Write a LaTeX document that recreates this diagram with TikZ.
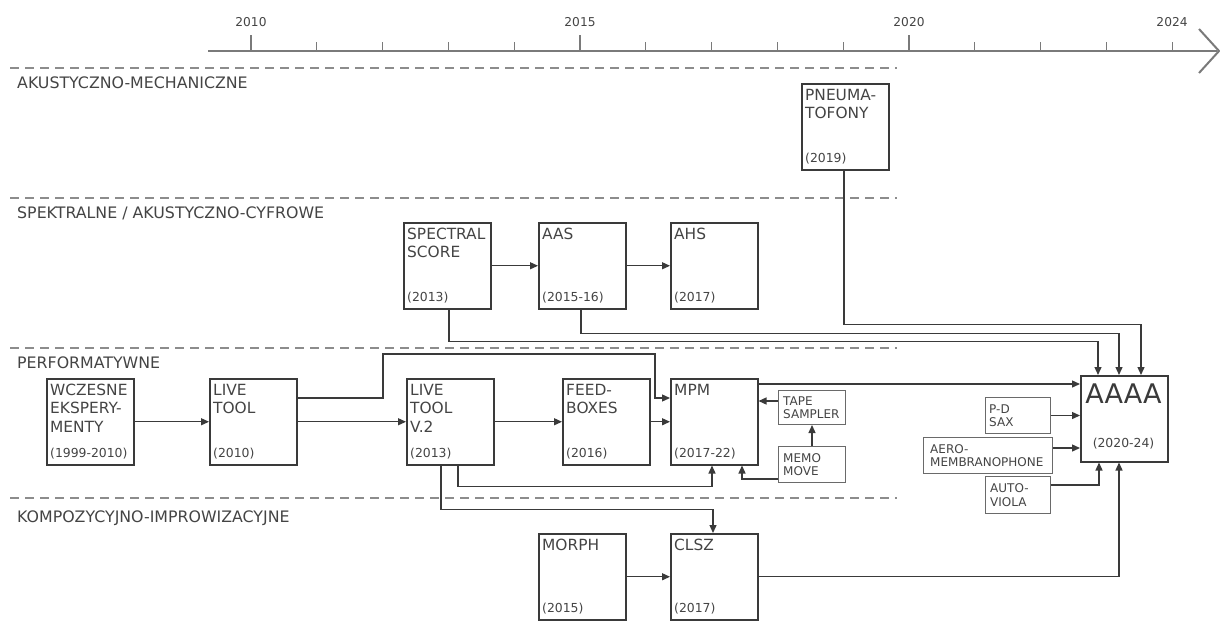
\documentclass[tikz,border=0pt]{standalone}
\usepackage{fontspec}
\setmainfont{DejaVu Sans}
\usetikzlibrary{calc,arrows.meta}
\definecolor{linec}{HTML}{3A3A3A}
\definecolor{txtc}{HTML}{444444}
\definecolor{lanec}{HTML}{8C8C8C}
\definecolor{axisc}{HTML}{7A7A7A}
\definecolor{sboxc}{HTML}{6A6A6A}
\tikzset{
  box/.style={draw=linec, line width=1.5pt, minimum width=87pt, minimum height=86pt, inner sep=0pt, anchor=north west},
  sbox/.style={draw=sboxc, line width=1pt, inner sep=0pt, anchor=north west},
  ttl/.style={anchor=north west, inner sep=0pt, align=left, text=txtc, font=\fontsize{15.4}{18.3}\selectfont},
  yr/.style={anchor=base west, inner sep=0pt, text=txtc, font=\fontsize{12.4}{14}\selectfont},
  stxt/.style={anchor=west, inner sep=0pt, align=left, text=txtc, font=\fontsize{12}{13.5}\selectfont},
  lanelbl/.style={anchor=base west, inner sep=0pt, text=txtc, font=\fontsize{15.8}{18}\selectfont},
  yearlbl/.style={anchor=base, inner sep=0pt, text=txtc, font=\fontsize{12.2}{14}\selectfont},
  laneline/.style={draw=lanec, line width=1.8pt, dash pattern=on 9pt off 6pt},
  conn/.style={draw=linec, line width=1.3pt, -{Triangle[length=8pt,width=7pt]}},
}
\begin{document}
\begin{tikzpicture}[x=1pt,y=-1pt]
\useasboundingbox (0,0) rectangle (1220,637);
% timeline
\draw[axisc, line width=2.4pt] (208,51) -- (1217,51);
\draw[axisc, line width=2pt, line join=miter] (1199,29) -- (1219,51) -- (1199,73);
\foreach \i in {0,...,14}{
  \pgfmathsetmacro\xx{251+65.8*\i}
  \ifnum\i=0 \draw[axisc,line width=1.3pt] (\xx,51) -- (\xx,35);
  \else\ifnum\i=5 \draw[axisc,line width=1.3pt] (\xx,51) -- (\xx,35);
  \else\ifnum\i=10 \draw[axisc,line width=1.3pt] (\xx,51) -- (\xx,35);
  \else \draw[axisc,line width=1.3pt] (\xx,51) -- (\xx,42);
  \fi\fi\fi
}
\node[yearlbl] (y2010) at (251,26) {2010};
\node[yearlbl] (y2015) at (580,26) {2015};
\node[yearlbl] (y2020) at (909,26) {2020};
\node[yearlbl] (y2024) at (1172,26) {2024};
% lanes
\draw[laneline] (10,68) -- (897,68);
\draw[laneline] (10,198) -- (897,198);
\draw[laneline] (10,348) -- (897,348);
\draw[laneline] (10,498) -- (897,498);
\node[lanelbl] (l1) at (17,88) {AKUSTYCZNO-MECHANICZNE};
\node[lanelbl] (l2) at (17,218) {SPEKTRALNE / AKUSTYCZNO-CYFROWE};
\node[lanelbl] (l3) at (17,368) {PERFORMATYWNE};
\node[lanelbl] (l4) at (17,522) {KOMPOZYCYJNO-IMPROWIZACYJNE};
% big boxes
\node[box] (pneu) at (801,83) {};
\node[box] (spec) at (403,222) {};
\node[box] (aas) at (538,222) {};
\node[box] (ahs) at (670,222) {};
\node[box] (wcz) at (46,378) {};
\node[box] (lt) at (209,378) {};
\node[box] (lt2) at (406,378) {};
\node[box] (fb) at (562,378) {};
\node[box] (mpm) at (670,378) {};
\node[box] (morph) at (538,533) {};
\node[box] (clsz) at (670,533) {};
\node[box] (aaaa) at (1080,375) {};
% titles
\foreach \b/\t in {pneu/{PNEUMA-\\TOFONY}, spec/{SPECTRAL\\SCORE}, aas/{AAS}, ahs/{AHS},
  wcz/{WCZESNE\\EKSPERY-\\MENTY}, lt/{LIVE\\TOOL}, lt2/{LIVE\\TOOL\\V.2}, fb/{FEED-\\BOXES},
  mpm/{MPM}, morph/{MORPH}, clsz/{CLSZ}}{
  \node[ttl] (\b-t) at ($(\b.north west)+(4,6)$) {\t};
}
\foreach \b/\y in {pneu/2019, spec/2013, aas/2015-16, ahs/2017, wcz/1999-2010, lt/2010,
  lt2/2013, fb/2016, mpm/2017-22, morph/2015, clsz/2017}{
  \node[yr] (\b-y) at ($(\b.south west)+(4,-8)$) {(\y)};
}
\node[anchor=base, inner sep=0pt, text=linec, font=\fontsize{27}{30}\selectfont] (aaaa-t) at ($(aaaa.north west)+(43.5,28)$) {AAAA};
\node[anchor=base, inner sep=0pt, text=txtc, font=\fontsize{12.4}{14}\selectfont] (aaaa-y) at ($(aaaa.north west)+(43.5,72)$) {(2020-24)};
% small boxes
\node[sbox, minimum width=67pt, minimum height=34pt] (tape) at (778,390) {};
\node[sbox, minimum width=67pt, minimum height=36pt] (memo) at (778,446) {};
\node[sbox, minimum width=65pt, minimum height=36pt] (pdsax) at (985,397) {};
\node[sbox, minimum width=129pt, minimum height=36pt] (aero) at (923,437) {};
\node[sbox, minimum width=65pt, minimum height=37pt] (auto) at (985,476) {};
\node[stxt] (tape-t) at ($(tape.west)+(5,0)$) {TAPE\\SAMPLER};
\node[stxt] (memo-t) at ($(memo.west)+(5,0)$) {MEMO\\MOVE};
\node[stxt] (pdsax-t) at ($(pdsax.west)+(4,0)$) {P-D\\SAX};
\node[stxt] (aero-t) at ($(aero.west)+(7,0)$) {AERO-\\MEMBRANOPHONE};
\node[stxt] (auto-t) at ($(auto.west)+(5,0)$) {AUTO-\\VIOLA};
% connectors
\draw[conn] (spec.east) -- (aas.west);
\draw[conn] (aas.east) -- (ahs.west);
\draw[conn] (wcz.east) -- (lt.west);
\draw[conn] (lt.east) -- (lt2.west);
\draw[conn] (lt2.east) -- (fb.west);
\draw[conn] (fb.east) -- (mpm.west);
\draw[conn] (morph.east) -- (clsz.west);
\draw[conn] ($(lt.north east)+(0,20)$) -- (383,398) -- (383,354) -- (655,354) -- (655,398) -- ($(mpm.north west)+(0,20)$);
\draw[conn] ($(mpm.north east)+(0,6)$) -- ($(aaaa.north west)+(0,9)$);
\draw[conn] ($(tape.north west)+(0,11)$) -- ($(mpm.north east)+(0,23)$);
\draw[conn] (memo.north) -- (tape.south);
\draw[conn] ($(memo.south west)+(0,-4)$) -| ($(mpm.south west)+(72,0)$);
\draw[conn] ($(lt2.south west)+(52,0)$) -- ++(0,21) -| ($(mpm.south west)+(42,0)$);
\draw[conn] ($(lt2.south west)+(35,0)$) -- ++(0,44) -| ($(clsz.north west)+(43,0)$);
\draw[conn] (clsz.east) -| ($(aaaa.south west)+(39,0)$);
\draw[conn] ($(auto.north east)+(0,9)$) -| ($(aaaa.south west)+(19,0)$);
\draw[conn] (pdsax.east) -- (pdsax.east -| aaaa.west);
\draw[conn] ($(aero.north east)+(0,11)$) coordinate (ae) -- (ae -| aaaa.west);
\draw[conn] ($(spec.south west)+(46,0)$) -- ++(0,32) -| ($(aaaa.north west)+(18,0)$);
\draw[conn] ($(aas.south west)+(43,0)$) -- ++(0,24) -| ($(aaaa.north west)+(39,0)$);
\draw[conn] ($(pneu.south west)+(43,0)$) -- ++(0,154) -| ($(aaaa.north west)+(61,0)$);
\end{tikzpicture}
\end{document}
